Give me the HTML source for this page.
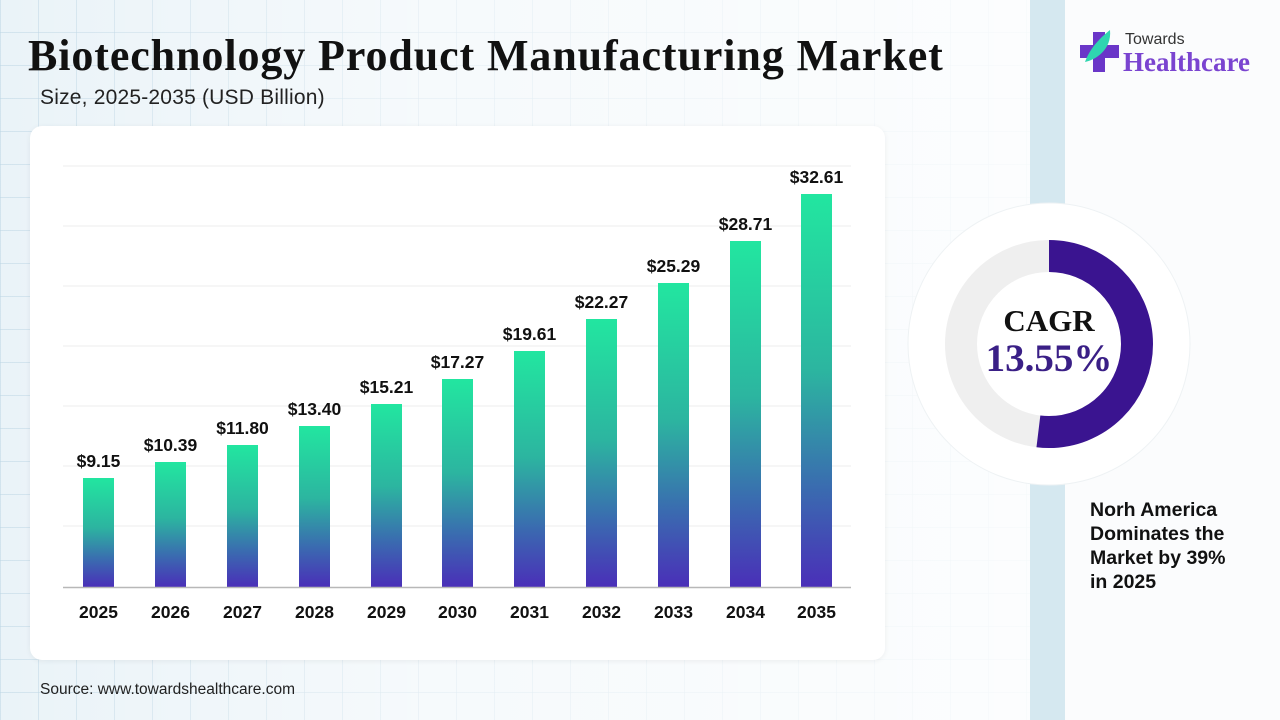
<!DOCTYPE html>
<html><head><meta charset="utf-8"><style>
html,body{margin:0;padding:0}
body{width:1280px;height:720px;position:relative;overflow:hidden;font-family:"Liberation Sans",sans-serif;
background-color:#eaf3f8;
background-image:linear-gradient(90deg,rgba(185,212,226,.5) 1px,transparent 1px),linear-gradient(0deg,rgba(185,212,226,.5) 1px,transparent 1px);
background-size:38px 33px;}
.fade{position:absolute;left:0;top:0;width:1030px;height:720px;background:linear-gradient(90deg,rgba(255,255,255,0) 0%,rgba(255,255,255,.55) 40%,rgba(255,255,255,.85) 100%)}
.strip{position:absolute;left:1030px;top:0;width:35px;height:720px;background:#d5e8f0}
.right{position:absolute;left:1065px;top:0;width:215px;height:720px;background:#fbfcfd}
h1{position:absolute;left:28px;top:30px;margin:0;font-family:"Liberation Serif",serif;font-weight:bold;font-size:44px;color:#111;letter-spacing:0.9px;white-space:nowrap}
.sub{position:absolute;left:40px;top:86px;font-size:21px;letter-spacing:0.2px;color:#222}
.card{position:absolute;left:30px;top:126px;width:855px;height:534px;background:#fff;border-radius:12px;box-shadow:0 1px 6px rgba(0,0,0,.06)}
.src{position:absolute;left:40px;top:681px;font-size:15.5px;color:#222}
.na{position:absolute;left:1090px;top:498px;font-size:19.5px;font-weight:bold;color:#111;line-height:24px}
</style></head><body>
<div class="fade"></div>
<div class="strip"></div>
<div class="right"></div>
<h1>Biotechnology Product Manufacturing Market</h1>
<div class="sub">Size, 2025-2035 (USD Billion)</div>
<div class="card"></div>
<svg width="1280" height="720" style="position:absolute;left:0;top:0">
<defs><linearGradient id="g" x1="0" y1="0" x2="0" y2="1">
<stop offset="0" stop-color="#22e6a0"/><stop offset="0.45" stop-color="#2cb5a0"/><stop offset="0.75" stop-color="#3a6bb0"/><stop offset="1" stop-color="#4a2fb8"/></linearGradient></defs>
<g stroke="#eeeeee" stroke-width="1">
<line x1="63" x2="851" y1="166" y2="166"/><line x1="63" x2="851" y1="226" y2="226"/><line x1="63" x2="851" y1="286" y2="286"/><line x1="63" x2="851" y1="346" y2="346"/><line x1="63" x2="851" y1="406" y2="406"/><line x1="63" x2="851" y1="466" y2="466"/><line x1="63" x2="851" y1="526" y2="526"/>
</g>
<g fill="url(#g)">
<rect x="83" y="478" width="31" height="109"/>
<rect x="155" y="462" width="31" height="125"/>
<rect x="227" y="445" width="31" height="142"/>
<rect x="299" y="426" width="31" height="161"/>
<rect x="371" y="404" width="31" height="183"/>
<rect x="442" y="379" width="31" height="208"/>
<rect x="514" y="351" width="31" height="236"/>
<rect x="586" y="319" width="31" height="268"/>
<rect x="658" y="283" width="31" height="304"/>
<rect x="730" y="241" width="31" height="346"/>
<rect x="801" y="194" width="31" height="393"/>
</g>
<line x1="63" x2="851" y1="587.5" y2="587.5" stroke="#b8b8b8" stroke-width="1.5"/>
<g font-family="Liberation Sans,sans-serif" font-weight="bold" font-size="17.5" fill="#111" text-anchor="middle">
<text x="98.5" y="467">$9.15</text><text x="170.5" y="451">$10.39</text><text x="242.5" y="434">$11.80</text><text x="314.5" y="415">$13.40</text><text x="386.5" y="393">$15.21</text><text x="457.5" y="368">$17.27</text><text x="529.5" y="340">$19.61</text><text x="601.5" y="308">$22.27</text><text x="673.5" y="272">$25.29</text><text x="745.5" y="230">$28.71</text><text x="816.5" y="183">$32.61</text>
<text x="98.5" y="618">2025</text><text x="170.5" y="618">2026</text><text x="242.5" y="618">2027</text><text x="314.5" y="618">2028</text><text x="386.5" y="618">2029</text><text x="457.5" y="618">2030</text><text x="529.5" y="618">2031</text><text x="601.5" y="618">2032</text><text x="673.5" y="618">2033</text><text x="745.5" y="618">2034</text><text x="816.5" y="618">2035</text>
</g>
<circle cx="1049" cy="344" r="141" fill="#fff" stroke="#eef2f4" stroke-width="1"/>
<circle cx="1049" cy="344" r="88" fill="none" stroke="#efefef" stroke-width="32"/>
<circle cx="1049" cy="344" r="88" fill="none" stroke="#3a1490" stroke-width="32" stroke-dasharray="287 600" transform="rotate(-90 1049 344)"/>
<text x="1049" y="331" text-anchor="middle" font-family="Liberation Serif,serif" font-weight="bold" font-size="31" fill="#111">CAGR</text>
<text x="1049" y="371" text-anchor="middle" font-family="Liberation Serif,serif" font-weight="bold" font-size="39" fill="#3a1f86">13.55%</text>
<rect x="1093" y="32" width="12" height="40" fill="#6a36c8"/>
<rect x="1080" y="45" width="39" height="13" fill="#6a36c8"/>
<path d="M1085 62 C1095 60 1112 50 1110 30 C1100 38 1090 48 1085 62Z" fill="#2fd6b0"/>
<text x="1125" y="44" font-family="Liberation Sans,sans-serif" font-size="16" fill="#333">Towards</text>
<text x="1123" y="71" font-family="Liberation Serif,serif" font-weight="bold" font-size="27" fill="#7a44d0">Healthcare</text>
</svg>
<div class="na">Norh America<br>Dominates the<br>Market by 39%<br>in 2025</div>
<div class="src">Source: www.towardshealthcare.com</div>
</body></html>
